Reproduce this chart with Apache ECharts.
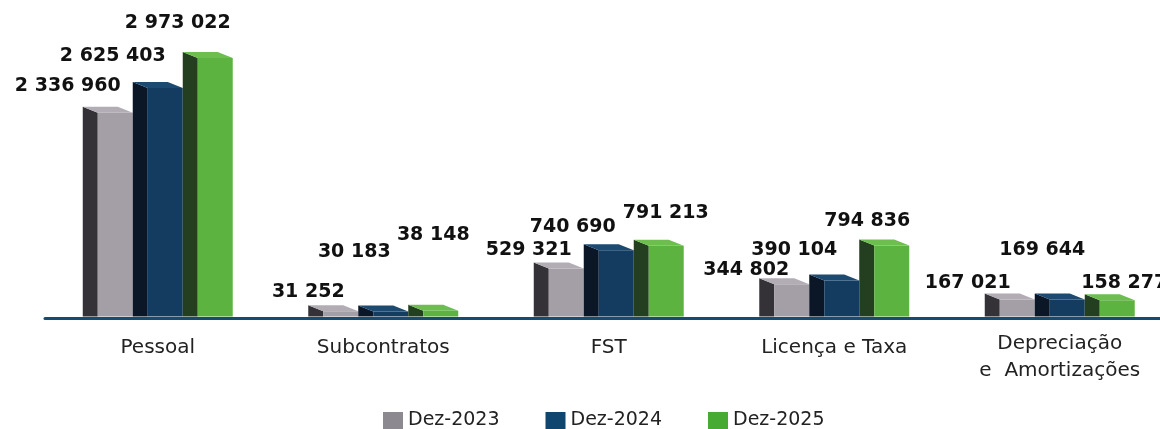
<!DOCTYPE html>
<html>
<head>
<meta charset="utf-8">
<script src="https://cdn.jsdelivr.net/npm/echarts@6/dist/echarts.min.js"></script>
<style>
  html, body { margin: 0; padding: 0; background: #ffffff; }
  #chart { width: 1160px; height: 429px; }
</style>
</head>
<body>
<div id="chart"></div>
<script>
// Custos por natureza (valores em unidades monetárias)
const categories = ['Pessoal', 'Subcontratos', 'FST', 'Licença e Taxa', 'Depreciação\ne  Amortizações'];
const years = ['Dez-2023', 'Dez-2024', 'Dez-2025'];
const values2023 = [2336960, 31252, 529321, 344802, 167021];
const values2024 = [2625403, 30183, 740690, 390104, 169644];
const values2025 = [2973022, 38148, 791213, 794836, 158277];

// Placement of each value label relative to the top of its bar (px)
const labelShift2023 = [[-47.5, -27], [-32.5, -19], [-37.5, -18], [-45.5, -14], [-49.5, -17]];
const labelShift2024 = [[-52.5, -32], [-36.5, -59], [-43.5, -23], [-47.5, -30], [-25, -49]];
const labelShift2025 = [[-37.5, -34.5], [-7.5, -76], [-0.5, -33], [-24.5, -24], [7, -17]];

// Face colours of the pseudo-3D columns: front, left side, top
const faces = [
  { legend: '#8d8990', front: '#a49ea6', side: '#343237', top: '#b2acb4' },
  { legend: '#0f4670', front: '#143b60', side: '#0b1627', top: '#1d4a70' },
  { legend: '#47aa33', front: '#5db33f', side: '#233f1f', top: '#6cbf4f' }
];

const TEXT_FAMILY = '"DejaVu Sans", "Noto Sans", sans-serif';
const LABEL_FONT = 'bold 19px ' + TEXT_FAMILY;

function fmt(v) {
  return String(v).replace(/\B(?=(\d{3})+(?!\d))/g, ' ');
}

function makeRender(sIdx, shifts) {
  const c = faces[sIdx];
  return function (params, api) {
    const ci = api.value(0);
    const v = api.value(1);
    const topPt = api.coord([ci, v]);
    const basePt = api.coord([ci, 0]);
    const band = api.size([1, 0])[0];
    const unit = band * 0.2217;          // one column incl. its side face
    const depthX = unit * 0.3;           // horizontal depth of side/top faces
    const depthY = 6;                    // vertical depth of the top face
    const unitCenter = topPt[0] + (sIdx - 1) * unit;
    const fx0 = unitCenter - unit / 2 + depthX;
    const fx1 = unitCenter + unit / 2;
    const yt = topPt[1];
    const yb = basePt[1] + 2.5;
    const sh = shifts[params.dataIndex];
    return {
      type: 'group',
      children: [
        { type: 'polygon', shape: { points: [[fx0, yt], [fx0 - depthX, yt - depthY], [fx0 - depthX, yb], [fx0, yb]] },
          style: { fill: c.side } },
        { type: 'rect', shape: { x: fx0, y: yt, width: fx1 - fx0, height: yb - yt },
          style: { fill: c.front } },
        { type: 'polygon', shape: { points: [[fx0, yt], [fx1, yt], [fx1 - depthX, yt - depthY], [fx0 - depthX, yt - depthY]] },
          style: { fill: c.top } },
        { type: 'text', x: (fx0 + fx1) / 2 + sh[0], y: yt + sh[1], z2: 10,
          style: { text: fmt(v), font: LABEL_FONT, fill: '#111111', align: 'center', verticalAlign: 'middle' } }
      ]
    };
  };
}

const seriesValues = [values2023, values2024, values2025];
const seriesShifts = [labelShift2023, labelShift2024, labelShift2025];

const chart = echarts.init(document.getElementById('chart'), null, { renderer: 'canvas' });
chart.setOption({
  animation: false,
  backgroundColor: '#ffffff',
  grid: { left: 45, right: -12.5, top: 4, bottom: 115, containLabel: false, outerBoundsMode: 'none' },
  legend: {
    data: years,
    left: 383,
    top: 411,
    padding: 0,
    icon: 'rect',
    itemWidth: 20,
    itemHeight: 17,
    itemGap: 46,
    textStyle: { fontSize: 19, color: '#222222', fontFamily: TEXT_FAMILY }
  },
  xAxis: {
    type: 'category',
    data: categories.map(function (name, i) {
      return i === 4 ? { value: name, textStyle: { lineHeight: 27 } } : name;
    }),
    position: 'bottom',
    offset: 4,
    axisLine: { onZero: false, lineStyle: { color: '#174b70', width: 3 } },
    axisTick: { show: false },
    axisLabel: {
      margin: 12,
      interval: 0,
      verticalAlign: 'top',
      lineHeight: 35,
      fontSize: 20,
      color: '#222222',
      fontFamily: TEXT_FAMILY
    }
  },
  yAxis: { type: 'value', min: 0, max: 3600000, show: false },
  series: years.map(function (name, s) {
    return {
      name: name,
      type: 'custom',
      itemStyle: { color: faces[s].legend },
      renderItem: makeRender(s, seriesShifts[s]),
      encode: { x: 0, y: 1 },
      data: seriesValues[s].map(function (v, i) { return [i, v]; })
    };
  })
});
</script>
</body>
</html>
